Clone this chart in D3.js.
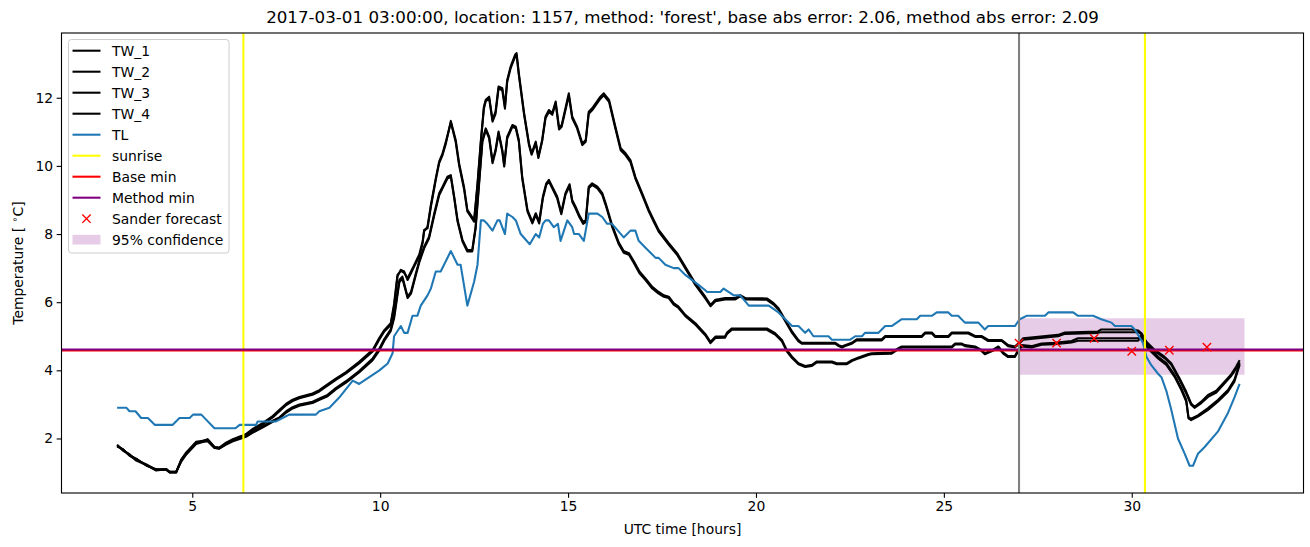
<!DOCTYPE html>
<html><head><meta charset="utf-8">
<script src="https://cdn.jsdelivr.net/npm/d3@7"></script>
<style>body{margin:0;background:#fff} svg{display:block} text{font-family:"DejaVu Sans",sans-serif;fill:#000}</style>
</head><body><svg id="c" width="1310" height="547"></svg>
<script>
const TITLE = "2017-03-01 03:00:00, location: 1157, method: 'forest', base abs error: 2.06, method abs error: 2.09";
const X_LABEL = "UTC time [hours]";
const xTicks = [5,10,15,20,25,30];
const yTicks = [2,4,6,8,10,12];
const legendLabels = ["TW_1","TW_2","TW_3","TW_4","TL","sunrise","Base min","Method min","Sander forecast","95% confidence"];

const TW_1 = [[3.0,1.80],[3.16,1.66],[3.33,1.52],[3.51,1.39],[3.78,1.22],[4.04,1.08],[4.31,1.10],[4.40,1.0],[4.57,1.0],[4.71,1.37],[4.84,1.57],[5.10,1.88],[5.28,1.91],[5.41,1.96],[5.59,1.73],[5.72,1.71],[5.90,1.86],[6.08,1.96],[6.30,2.05],[6.43,2.10],[6.61,2.25],[6.88,2.42],[7.14,2.62],[7.32,2.80],[7.50,2.98],[7.67,3.10],[7.85,3.18],[8.20,3.28],[8.38,3.38],[8.56,3.52],[8.82,3.72],[9.09,3.91],[9.44,4.20],[9.80,4.55],[9.97,4.89],[10.11,5.14],[10.28,5.33],[10.37,5.87],[10.46,6.75],[10.55,6.95],[10.64,6.90],[10.73,6.65],[10.82,6.85],[10.90,7.04],[11.04,7.34],[11.13,7.73],[11.17,8.12],[11.26,8.17],[11.35,8.80],[11.48,9.59],[11.57,10.08],[11.66,10.32],[11.75,10.66],[11.88,11.32],[12.01,10.76],[12.10,10.08],[12.23,9.39],[12.32,8.71],[12.50,8.41],[12.59,9.49],[12.68,10.76],[12.76,11.74],[12.81,11.94],[12.90,12.03],[12.99,11.35],[13.07,11.59],[13.15,12.33],[13.25,12.28],[13.32,11.74],[13.38,12.52],[13.47,12.91],[13.59,13.26],[13.63,13.31],[13.69,12.72],[13.83,11.55],[13.96,10.66],[14.03,10.37],[14.14,10.71],[14.21,10.27],[14.31,10.76],[14.40,11.45],[14.49,11.64],[14.58,11.55],[14.67,11.89],[14.76,11.12],[14.83,11.20],[14.93,11.69],[15.02,12.13],[15.11,11.45],[15.24,11.15],[15.38,10.66],[15.47,10.76],[15.55,11.59],[15.64,11.69],[15.86,12.03],[15.95,12.13],[16.09,11.94],[16.26,11.15],[16.40,10.52],[16.53,10.37],[16.66,10.17],[16.79,9.68],[16.97,9.20],[17.15,8.71],[17.28,8.41],[17.41,8.12],[17.68,7.73],[17.90,7.44],[18.12,7.04],[18.39,6.55],[18.65,6.16],[18.79,5.92],[18.92,6.07],[19.18,6.12],[19.45,6.12],[19.58,6.21],[19.72,6.12],[20.29,6.11],[20.47,5.97],[20.60,5.82],[20.78,5.48],[20.96,5.14],[21.13,4.89],[21.22,4.81],[22.11,4.81],[22.20,4.74],[22.29,4.70],[22.37,4.74],[22.55,4.81],[22.68,4.91],[23.35,4.91],[23.44,5.01],[24.41,5.01],[24.50,5.11],[24.68,5.11],[24.77,5.01],[25.12,5.01],[25.21,5.11],[25.65,5.11],[25.83,5.01],[26.00,5.01],[26.18,4.89],[26.54,4.89],[26.71,4.74],[26.89,4.70],[27.00,4.81],[27.11,4.94],[28.04,5.04],[28.22,5.11],[29.10,5.14],[29.19,5.20],[29.99,5.20],[30.17,5.17],[30.26,5.09],[30.39,4.84],[30.61,4.60],[30.87,4.40],[31.05,4.21],[31.27,3.77],[31.45,3.37],[31.58,3.03],[31.67,2.93],[31.85,3.08],[32.03,3.28],[32.25,3.40],[32.47,3.67],[32.65,3.89],[32.78,4.11],[32.87,4.30]];

const TW_2 = [[3.0,1.76],[3.16,1.68],[3.33,1.50],[3.51,1.41],[3.78,1.20],[4.04,1.10],[4.31,1.08],[4.40,1.02],[4.57,1.02],[4.71,1.39],[4.84,1.59],[5.10,1.90],[5.28,1.93],[5.41,1.98],[5.59,1.75],[5.72,1.73],[5.90,1.88],[6.08,1.98],[6.30,2.07],[6.43,2.13],[6.61,2.28],[6.88,2.46],[7.14,2.66],[7.32,2.84],[7.50,3.02],[7.67,3.14],[7.85,3.22],[8.20,3.32],[8.38,3.42],[8.56,3.56],[8.82,3.76],[9.09,3.95],[9.44,4.25],[9.80,4.60],[9.97,4.94],[10.11,5.18],[10.28,5.38],[10.37,5.95],[10.46,6.80],[10.55,6.92],[10.64,6.86],[10.73,6.70],[10.82,6.90],[10.90,7.08],[11.04,7.40],[11.13,7.79],[11.17,8.08],[11.26,8.22],[11.35,8.86],[11.48,9.64],[11.57,10.13],[11.66,10.37],[11.75,10.72],[11.88,11.27],[12.01,10.70],[12.10,10.02],[12.23,9.33],[12.32,8.66],[12.50,8.36],[12.59,9.43],[12.68,10.70],[12.76,11.68],[12.81,11.90],[12.90,11.97],[12.99,11.30],[13.07,11.53],[13.15,12.27],[13.25,12.22],[13.32,11.68],[13.38,12.46],[13.47,12.86],[13.59,13.20],[13.63,13.24],[13.69,12.66],[13.83,11.50],[13.96,10.61],[14.03,10.33],[14.14,10.66],[14.21,10.23],[14.31,10.72],[14.40,11.40],[14.49,11.58],[14.58,11.50],[14.67,11.83],[14.76,11.07],[14.83,11.15],[14.93,11.63],[15.02,12.06],[15.11,11.40],[15.24,11.10],[15.38,10.61],[15.47,10.71],[15.55,11.53],[15.64,11.63],[15.86,11.97],[15.95,12.07],[16.09,11.88],[16.26,11.09],[16.40,10.46],[16.53,10.31],[16.66,10.11],[16.79,9.63],[16.97,9.15],[17.15,8.66],[17.28,8.36],[17.41,8.07],[17.68,7.68],[17.90,7.39],[18.12,6.99],[18.39,6.50],[18.65,6.11],[18.79,5.88],[18.92,6.03],[19.18,6.08],[19.45,6.08],[19.58,6.17],[19.72,6.08],[20.29,6.07],[20.47,5.93],[20.60,5.78],[20.78,5.44],[20.96,5.10],[21.13,4.85],[21.22,4.78],[22.11,4.78],[22.20,4.71],[22.29,4.67],[22.37,4.71],[22.55,4.78],[22.68,4.88],[23.35,4.88],[23.44,4.98],[24.41,4.98],[24.50,5.08],[24.68,5.08],[24.77,4.98],[25.12,4.98],[25.21,5.08],[25.65,5.08],[25.83,4.98],[26.00,4.98],[26.18,4.86],[26.54,4.86],[26.71,4.71],[26.89,4.67],[27.00,4.78],[27.11,4.90],[28.04,5.00],[28.22,5.07],[29.10,5.10],[29.19,5.12],[29.99,5.12],[30.17,5.12],[30.26,5.06],[30.39,4.80],[30.61,4.56],[30.87,4.36],[31.05,4.17],[31.27,3.72],[31.45,3.32],[31.58,2.99],[31.67,2.90],[31.85,3.04],[32.03,3.22],[32.25,3.35],[32.47,3.62],[32.65,3.84],[32.78,4.05],[32.87,4.24]];

const TW_3 = [[3.0,1.78],[3.16,1.68],[3.33,1.50],[3.51,1.37],[3.78,1.24],[4.04,1.08],[4.31,1.08],[4.40,1.0],[4.57,1.0],[4.71,1.35],[4.84,1.55],[5.10,1.86],[5.28,1.93],[5.41,1.94],[5.59,1.75],[5.72,1.73],[5.90,1.84],[6.08,1.94],[6.30,2.03],[6.43,2.08],[6.61,2.20],[6.88,2.36],[7.14,2.52],[7.32,2.62],[7.50,2.80],[7.67,2.92],[7.85,3.00],[8.20,3.08],[8.40,3.18],[8.60,3.28],[8.82,3.48],[9.09,3.68],[9.44,3.98],[9.80,4.35],[9.97,4.62],[10.11,4.92],[10.28,5.20],[10.37,5.60],[10.51,6.65],[10.59,6.75],[10.73,6.16],[10.82,6.30],[10.95,6.85],[11.05,7.25],[11.17,7.63],[11.30,7.92],[11.44,8.61],[11.57,9.20],[11.66,9.39],[11.79,9.68],[11.88,9.73],[11.97,9.10],[12.06,8.41],[12.19,7.83],[12.32,7.53],[12.45,7.53],[12.54,8.22],[12.63,9.49],[12.72,10.76],[12.81,11.10],[12.90,10.86],[12.99,10.13],[13.07,10.47],[13.15,11.01],[13.25,10.47],[13.30,10.03],[13.38,10.86],[13.52,11.20],[13.61,11.15],[13.69,10.76],[13.78,9.68],[13.92,8.71],[14.05,8.36],[14.14,8.61],[14.23,8.36],[14.33,9.10],[14.42,9.49],[14.49,9.59],[14.58,9.39],[14.71,9.10],[14.82,8.63],[14.93,9.20],[15.04,9.46],[15.11,9.00],[15.20,8.80],[15.30,8.55],[15.40,8.35],[15.47,8.40],[15.55,9.39],[15.64,9.49],[15.78,9.39],[15.91,9.20],[16.00,8.90],[16.17,8.27],[16.35,7.75],[16.48,7.50],[16.62,7.44],[16.75,7.20],[16.90,6.90],[17.06,6.70],[17.24,6.45],[17.41,6.30],[17.55,6.20],[17.68,6.16],[17.81,5.97],[17.94,5.87],[18.12,5.63],[18.39,5.38],[18.65,5.07],[18.79,4.84],[18.92,4.99],[19.18,5.00],[19.23,5.11],[19.36,5.23],[20.29,5.23],[20.51,5.09],[20.69,4.89],[20.82,4.60],[20.96,4.40],[21.13,4.21],[21.31,4.13],[21.49,4.16],[21.62,4.26],[22.02,4.26],[22.15,4.21],[22.42,4.21],[22.55,4.30],[22.73,4.38],[22.99,4.48],[23.08,4.50],[23.61,4.52],[23.79,4.65],[23.88,4.70],[25.21,4.70],[25.30,4.79],[25.47,4.79],[25.56,4.74],[25.83,4.70],[26.00,4.60],[26.09,4.50],[26.30,4.60],[26.45,4.70],[26.58,4.52],[26.71,4.42],[26.89,4.42],[26.98,4.60],[27.07,4.74],[27.33,4.71],[27.60,4.79],[27.95,4.81],[28.40,4.86],[28.57,4.94],[30.17,4.94],[30.26,5.04],[30.43,4.69],[30.70,4.40],[30.92,4.21],[31.14,3.86],[31.32,3.47],[31.45,3.13],[31.51,2.59],[31.58,2.54],[31.76,2.64],[32.03,2.84],[32.29,3.08],[32.56,3.37],[32.73,3.67],[32.87,4.16]];

const TW_4 = [[3.0,1.82],[3.16,1.64],[3.33,1.54],[3.51,1.35],[3.78,1.22],[4.04,1.06],[4.31,1.10],[4.40,1.02],[4.57,1.02],[4.71,1.33],[4.84,1.53],[5.10,1.84],[5.28,1.90],[5.41,1.92],[5.59,1.72],[5.72,1.70],[5.90,1.82],[6.08,1.92],[6.30,2.00],[6.43,2.05],[6.61,2.17],[6.88,2.33],[7.14,2.49],[7.32,2.59],[7.50,2.76],[7.67,2.88],[7.85,2.96],[8.20,3.04],[8.40,3.14],[8.60,3.24],[8.82,3.44],[9.09,3.64],[9.44,3.94],[9.80,4.30],[9.97,4.57],[10.11,4.87],[10.28,5.15],[10.37,5.52],[10.51,6.58],[10.59,6.70],[10.73,6.12],[10.82,6.25],[10.95,6.80],[11.05,7.20],[11.17,7.58],[11.30,7.87],[11.44,8.55],[11.57,9.14],[11.66,9.34],[11.79,9.63],[11.88,9.68],[11.97,9.05],[12.06,8.36],[12.19,7.78],[12.32,7.49],[12.45,7.49],[12.54,8.16],[12.63,9.43],[12.72,10.70],[12.81,11.05],[12.90,10.81],[12.99,10.08],[13.07,10.42],[13.15,10.95],[13.25,10.42],[13.30,9.98],[13.38,10.80],[13.52,11.15],[13.61,11.10],[13.69,10.71],[13.78,9.63],[13.92,8.66],[14.05,8.31],[14.14,8.56],[14.23,8.31],[14.33,9.05],[14.42,9.44],[14.49,9.54],[14.58,9.34],[14.71,9.05],[14.82,8.58],[14.93,9.15],[15.04,9.41],[15.11,8.95],[15.20,8.75],[15.30,8.50],[15.40,8.30],[15.47,8.35],[15.55,9.34],[15.64,9.44],[15.78,9.34],[15.91,9.15],[16.00,8.85],[16.17,8.22],[16.35,7.70],[16.48,7.45],[16.62,7.39],[16.75,7.15],[16.90,6.85],[17.06,6.65],[17.24,6.40],[17.41,6.25],[17.55,6.16],[17.68,6.12],[17.81,5.93],[17.94,5.83],[18.12,5.59],[18.39,5.34],[18.65,5.03],[18.79,4.80],[18.92,4.95],[19.18,4.96],[19.23,5.07],[19.36,5.19],[20.29,5.19],[20.51,5.05],[20.69,4.85],[20.82,4.56],[20.96,4.36],[21.13,4.18],[21.31,4.10],[21.49,4.13],[21.62,4.23],[22.02,4.23],[22.15,4.18],[22.42,4.18],[22.55,4.27],[22.73,4.35],[22.99,4.45],[23.08,4.47],[23.61,4.49],[23.79,4.62],[23.88,4.67],[25.21,4.67],[25.30,4.76],[25.47,4.76],[25.56,4.71],[25.83,4.67],[26.00,4.57],[26.09,4.47],[26.30,4.57],[26.45,4.67],[26.58,4.49],[26.71,4.39],[26.89,4.39],[26.98,4.56],[27.07,4.70],[27.33,4.67],[27.60,4.75],[27.95,4.77],[28.40,4.82],[28.57,4.87],[30.17,4.87],[30.26,5.00],[30.43,4.64],[30.70,4.35],[30.92,4.16],[31.14,3.81],[31.32,3.42],[31.45,3.08],[31.51,2.62],[31.58,2.58],[31.76,2.68],[32.03,2.89],[32.29,3.13],[32.56,3.42],[32.73,3.72],[32.87,4.20]];

const TL = [[3.0,2.9],[3.25,2.9],[3.33,2.8],[3.49,2.8],[3.64,2.6],[3.82,2.6],[4.0,2.4],[4.48,2.4],[4.66,2.6],[4.93,2.6],[5.02,2.7],[5.24,2.7],[5.59,2.3],[6.15,2.3],[6.26,2.4],[6.70,2.4],[6.74,2.5],[7.23,2.5],[7.40,2.6],[7.58,2.7],[8.29,2.7],[8.38,2.8],[8.65,2.9],[8.91,3.2],[9.27,3.7],[9.44,3.6],[9.71,3.8],[9.98,4.0],[10.20,4.2],[10.33,4.5],[10.37,5.0],[10.55,5.3],[10.64,5.1],[10.73,5.1],[10.86,5.6],[10.99,5.6],[11.08,5.9],[11.26,6.2],[11.35,6.4],[11.48,6.9],[11.61,6.9],[11.88,7.5],[12.06,7.1],[12.14,7.1],[12.32,5.9],[12.50,6.6],[12.59,7.1],[12.68,8.4],[12.76,8.4],[12.85,8.3],[12.99,8.1],[13.12,8.4],[13.18,8.4],[13.32,8.0],[13.38,8.6],[13.52,8.5],[13.61,8.4],[13.74,8.0],[13.98,7.7],[14.14,8.0],[14.23,7.9],[14.33,8.3],[14.40,8.4],[14.49,8.4],[14.62,8.2],[14.73,8.3],[14.80,7.8],[14.98,8.4],[15.11,8.2],[15.16,8.0],[15.29,8.0],[15.42,7.8],[15.55,8.6],[15.78,8.6],[15.91,8.5],[16.04,8.3],[16.17,8.3],[16.48,7.9],[16.66,8.1],[16.79,8.1],[16.88,7.8],[17.06,7.6],[17.33,7.3],[17.41,7.3],[17.59,7.1],[17.81,7.0],[17.94,7.0],[18.12,6.8],[18.48,6.5],[18.65,6.35],[18.70,6.3],[19.05,6.3],[19.14,6.4],[19.27,6.3],[19.41,6.2],[19.58,6.2],[19.81,5.9],[20.34,5.9],[20.60,5.7],[20.96,5.3],[21.13,5.3],[21.31,5.1],[21.40,5.2],[21.53,5.0],[21.93,5.0],[22.02,4.9],[22.51,4.9],[22.64,5.0],[22.82,5.0],[22.90,5.1],[23.26,5.1],[23.44,5.3],[23.61,5.3],[23.88,5.5],[24.28,5.5],[24.37,5.6],[24.68,5.6],[24.81,5.7],[25.12,5.7],[25.21,5.6],[25.38,5.6],[25.56,5.4],[25.92,5.4],[26.09,5.2],[26.18,5.3],[26.89,5.3],[27.02,5.5],[27.20,5.6],[27.69,5.6],[27.78,5.7],[28.44,5.7],[28.57,5.6],[28.97,5.6],[29.19,5.5],[29.46,5.4],[29.55,5.3],[29.99,5.3],[30.08,5.2],[30.30,4.8],[30.39,4.4],[30.52,4.15],[30.70,3.9],[30.79,3.8],[30.92,3.4],[31.05,2.85],[31.23,2.0],[31.41,1.55],[31.54,1.2],[31.63,1.2],[31.76,1.55],[31.94,1.75],[32.29,2.2],[32.56,2.75],[32.73,3.2],[32.87,3.6]];

const sunriseHours = [6.36, 30.35];
const forecastStart = 27.0;
const baseMin = 4.585;
const methodMin = 4.61;
const sanderHours = [27, 28, 29, 30, 31, 32];
const sanderValues = [4.80, 4.80, 4.94, 4.56, 4.59, 4.68];
const confHours = [27, 33];
const confLow = [3.87, 3.87];
const confHigh = [5.53, 5.53];

const LW = 2.08;
const svg = d3.select("#c");
const L = 61.5, R = 1303.5, T = 33, B = 493;
const x = d3.scaleLinear().domain([1.52, 34.57]).range([L, R]);
const y = d3.scaleLinear().domain([0.4, 13.9]).range([B, T]);

svg.append("defs").append("clipPath").attr("id","clip").append("rect")
  .attr("x",L).attr("y",T).attr("width",R-L).attr("height",B-T);
const g = svg.append("g").attr("clip-path","url(#clip)");

// confidence band
const area = d3.area().x((d,i)=>x(confHours[i])).y0((d,i)=>y(confLow[i])).y1((d,i)=>y(confHigh[i]));
g.append("path").datum(confHours).attr("d", area).attr("fill","purple").attr("fill-opacity",0.2);

const line = d3.line().x(d=>x(d[0])).y(d=>y(d[1]));
[TW_1,TW_2,TW_3,TW_4].forEach(s=>{
  g.append("path").datum(s).attr("d",line).attr("fill","none").attr("stroke","#000")
   .attr("stroke-width",LW).attr("stroke-linejoin","round").attr("stroke-linecap","butt");
});
g.append("path").datum(TL).attr("d",line).attr("fill","none").attr("stroke","#1f77b4")
  .attr("stroke-width",LW).attr("stroke-linejoin","round");

// sunrise
sunriseHours.forEach(h=>{
  g.append("line").attr("x1",x(h)).attr("x2",x(h)).attr("y1",T).attr("y2",B)
   .attr("stroke","#ffff00").attr("stroke-width",LW);
});
// base min / method min
g.append("line").attr("x1",L).attr("x2",R).attr("y1",y(baseMin)).attr("y2",y(baseMin))
  .attr("stroke","#ff0000").attr("stroke-width",LW);
g.append("line").attr("x1",L).attr("x2",R).attr("y1",y(methodMin)).attr("y2",y(methodMin))
  .attr("stroke","#800080").attr("stroke-width",LW);
// forecast start
g.append("line").attr("x1",x(forecastStart)).attr("x2",x(forecastStart)).attr("y1",T).attr("y2",B)
  .attr("stroke","#808080").attr("stroke-width",LW);

// sander markers
const ms = 4.17;
sanderHours.forEach((h,i)=>{
  const cx = x(h), cy = y(sanderValues[i]);
  g.append("path").attr("d",`M${cx-ms},${cy-ms}L${cx+ms},${cy+ms}M${cx-ms},${cy+ms}L${cx+ms},${cy-ms}`)
   .attr("stroke","#ff0000").attr("stroke-width",1.39).attr("fill","none");
});

// axes
const xAxis = d3.axisBottom(x).tickValues(xTicks).tickSize(4.86).tickPadding(3.5).tickFormat(d3.format("d"));
const yAxis = d3.axisLeft(y).tickValues(yTicks).tickSize(4.86).tickPadding(3.5).tickFormat(d3.format("d"));
const gx = svg.append("g").attr("transform",`translate(0,${B})`).call(xAxis);
const gy = svg.append("g").attr("transform",`translate(${L},0)`).call(yAxis);
[gx,gy].forEach(a=>{
  a.select(".domain").remove();
  a.selectAll(".tick line").attr("stroke","#000").attr("stroke-width",1.11);
  a.selectAll(".tick text").attr("font-family","DejaVu Sans").attr("font-size","13.9px").attr("fill","#000");
});
svg.append("rect").attr("x",L).attr("y",T).attr("width",R-L).attr("height",B-T)
  .attr("fill","none").attr("stroke","#000").attr("stroke-width",1.11);

// labels
svg.append("text").attr("x",(L+R)/2).attr("y",23).attr("text-anchor","middle")
  .attr("font-size","16.7px").text(TITLE);
svg.append("text").attr("x",(L+R)/2).attr("y",534).attr("text-anchor","middle")
  .attr("font-size","13.9px").text(X_LABEL);
const yl = svg.append("text").attr("transform","translate(23,263) rotate(-90)").attr("text-anchor","middle")
  .attr("font-size","13.9px");
yl.append("tspan").text("Temperature [ ");
yl.append("tspan").attr("font-size","9.7px").attr("dy","-5").text("\u2218");
yl.append("tspan").attr("dy","5").text("C]");

// legend
const lg = svg.append("g");
lg.append("rect").attr("x",68.5).attr("y",39.5).attr("width",160.5).attr("height",213.5).attr("rx",3)
  .attr("fill","#fff").attr("fill-opacity",0.8).attr("stroke","#cccccc").attr("stroke-width",1);
const rowY = i => 50.7 + i*21.0;
const styles = [
  {t:"line",c:"#000"},{t:"line",c:"#000"},{t:"line",c:"#000"},{t:"line",c:"#000"},
  {t:"line",c:"#1f77b4"},{t:"line",c:"#ffff00"},{t:"line",c:"#ff0000"},{t:"line",c:"#800080"},
  {t:"x",c:"#ff0000"},{t:"patch",c:"purple"}];
legendLabels.forEach((lab,i)=>{
  const yy = rowY(i), st = styles[i];
  if (st.t==="line") {
    lg.append("line").attr("x1",72.5).attr("x2",100.5).attr("y1",yy).attr("y2",yy)
      .attr("stroke",st.c).attr("stroke-width",LW);
  } else if (st.t==="x") {
    const cx=86.5, m=4.17;
    lg.append("path").attr("d",`M${cx-m},${yy-m}L${cx+m},${yy+m}M${cx-m},${yy+m}L${cx+m},${yy-m}`)
      .attr("stroke",st.c).attr("stroke-width",1.39);
  } else {
    lg.append("rect").attr("x",72.5).attr("y",yy-4.9).attr("width",28).attr("height",9.7)
      .attr("fill",st.c).attr("fill-opacity",0.2);
  }
  lg.append("text").attr("x",112).attr("y",yy).attr("dy","0.36em").attr("font-size","13.9px").text(lab);
});
</script></body></html>
